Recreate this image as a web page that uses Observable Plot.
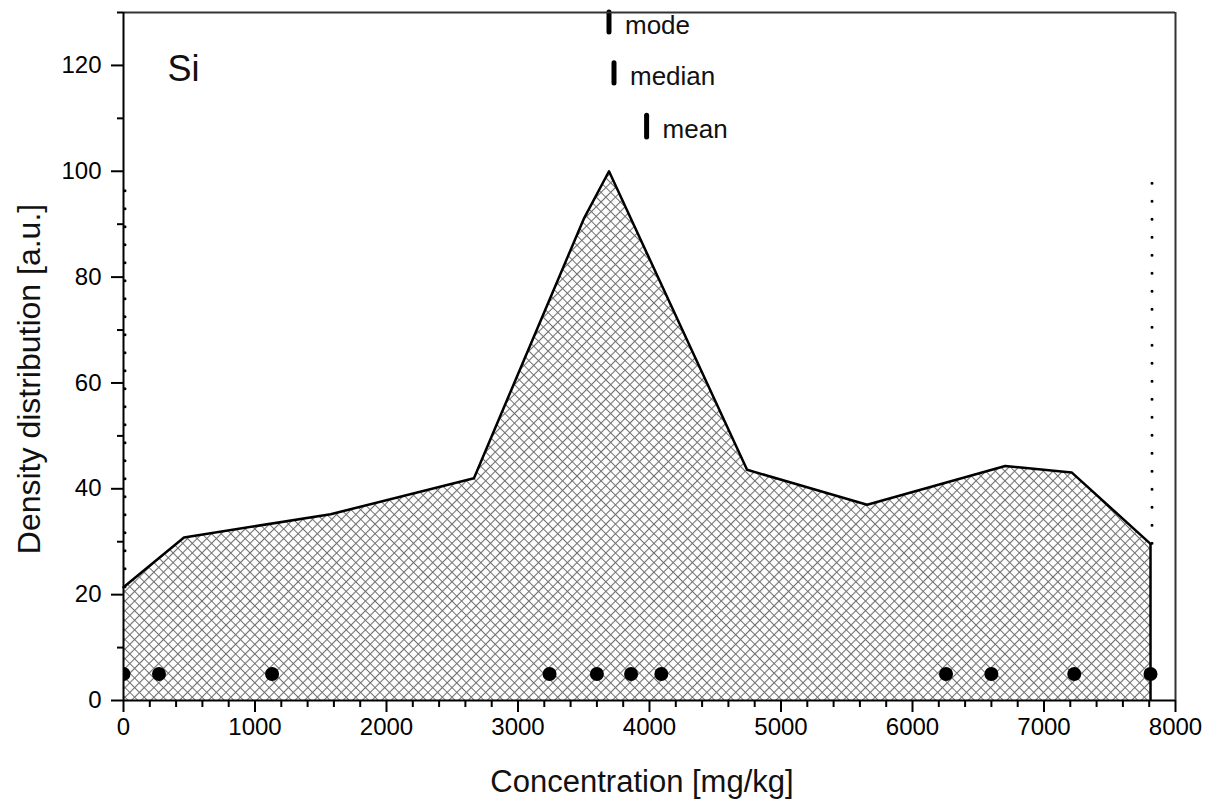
<!DOCTYPE html>
<html>
<head>
<meta charset="utf-8">
<script src="https://cdn.jsdelivr.net/npm/d3@7"></script>
<script src="https://cdn.jsdelivr.net/npm/@observablehq/plot@0.6"></script>
<style>
  body { margin: 0; background: #fff; }
  #chart svg { display: block; }
</style>
</head>
<body>
<div id="chart"></div>
<script>
// Kernel density of Si concentration (polyline knots)
const densityX = [0, 460, 1575, 2665, 3500, 3692, 4742, 5655, 6705, 7210, 7810];
const densityY = [21.4, 30.8, 35.2, 42.0, 91.0, 100, 43.6, 37.0, 44.3, 43.1, 29.6];

// Individual sample concentrations (drawn as a rug of dots)
const sampleX = [0, 270, 1130, 3240, 3600, 3860, 4090, 6255, 6600, 7230, 7810];
const sampleLevel = 5;

// Summary statistics markers
const statNames = ["mode", "median", "mean"];
const statX = [3692, 3730, 3978];
const statLow = [126.2, 116.6, 106.4];
const statHigh = [130, 120.4, 110.5];

// Range of the data (dotted guides at min and max)
const rangeX = [0, 7810];
const rangeBase = [21.4, 29.6];
const rangeTop = 98;

const xTicks = [0, 1000, 2000, 3000, 4000, 5000, 6000, 7000, 8000];
const yTicks = [0, 20, 40, 60, 80, 100, 120];

const density = densityX.map((x, i) => ({x, y: densityY[i]}));
const samples = sampleX.map(x => ({x, y: sampleLevel}));
const stats = statNames.map((name, i) => ({name, x: statX[i], lo: statLow[i], hi: statHigh[i]}));
const ranges = rangeX.map((x, i) => ({x, lo: rangeBase[i], hi: rangeTop}));
const lastKnot = density[density.length - 1];

const xMinor = d3.range(200, 8000, 200).filter(v => v % 1000 !== 0);
const yMinor = d3.range(10, 131, 20);

const font = "'Liberation Sans', Arial, Helvetica, sans-serif";

const chart = Plot.plot({
  width: 1215,
  height: 805,
  marginLeft: 123,
  marginRight: 40,
  marginTop: 12,
  marginBottom: 105,
  style: {fontFamily: font, fontSize: "24px", background: "white", overflow: "visible", color: "black"},
  x: {domain: [0, 8000]},
  y: {domain: [0, 130]},
  marks: [
    // cross-hatched density area
    Plot.areaY(density, {x: "x", y: "y", fill: "url(#crosshatch)"}),
    // density outline
    Plot.line(density, {x: "x", y: "y", stroke: "black", strokeWidth: 2.5}),
    Plot.ruleX([lastKnot], {x: "x", y1: 0, y2: "y", stroke: "black", strokeWidth: 2.5}),
    // samples
    Plot.dot(samples, {x: "x", y: "y", r: 7, fill: "black", clip: true}),
    // mode / median / mean markers
    Plot.ruleX(stats, {x: "x", y1: "lo", y2: "hi", stroke: "black", strokeWidth: 5, strokeLinecap: "round"}),
    Plot.text(stats, {x: "x", y: d => (d.lo + d.hi) / 2, text: "name", textAnchor: "start",
                      dx: 16, dy: 3, fontSize: 26, fill: "#111"}),
    // element label
    Plot.text(["Si"], {frameAnchor: "top-left", text: d => d, dx: 44, dy: 43, lineAnchor: "top",
                       textAnchor: "start", fontSize: 36, fill: "#111"}),
    // frame: top and right edges
    Plot.ruleY([130], {stroke: "#333", strokeWidth: 2}),
    Plot.ruleX([8000], {stroke: "#333", strokeWidth: 2}),
    // axis lines
    Plot.ruleX([0], {stroke: "black", strokeWidth: 2}),
    Plot.ruleY([0], {stroke: "black", strokeWidth: 2}),
    // dotted guides at the data range
    Plot.ruleX(ranges, {x: "x", y1: "lo", y2: "hi", dx: 1.5, stroke: "black", strokeWidth: 3,
                        strokeDasharray: "0 18", strokeLinecap: "round"}),
    // axes
    Plot.axisX({ticks: xTicks, tickFormat: d => String(d), tickSize: 12, tickPadding: 5,
                fontSize: 24, strokeWidth: 2, label: null}),
    Plot.axisX({ticks: xMinor, tickSize: 7, strokeWidth: 2, fill: "none", label: null}),
    Plot.axisY({ticks: yTicks, tickFormat: d => String(d), tickSize: 12, tickPadding: 10,
                fontSize: 24, strokeWidth: 2, label: null}),
    Plot.axisY({ticks: yMinor, tickSize: 6, strokeWidth: 2, fill: "none", label: null})
  ]
});

const svg = d3.select(chart);

// tick labels: set the size on each label element directly
svg.selectAll("g[aria-label*='tick label']")
  .attr("font-size", 24)
  .selectAll("text")
  .attr("font-size", 24)
  .style("font-size", "24px");

// hatch pattern definition
const defs = svg.insert("defs", ":first-child");
const pat = defs.append("pattern")
  .attr("id", "crosshatch")
  .attr("patternUnits", "userSpaceOnUse")
  .attr("width", 6.8)
  .attr("height", 6.8)
  .attr("patternTransform", "rotate(45)");
pat.append("rect").attr("width", 6.8).attr("height", 6.8).attr("fill", "white");
pat.append("path")
  .attr("d", "M0,3.4H6.8M3.4,0V6.8")
  .attr("stroke", "#707070")
  .attr("stroke-width", 1.1)
  .attr("fill", "none");

// axis titles
svg.append("text")
  .attr("x", 642).attr("y", 792)
  .attr("text-anchor", "middle")
  .attr("font-family", font)
  .attr("font-size", 31)
  .attr("fill", "#111")
  .text("Concentration [mg/kg]");
svg.append("text")
  .attr("transform", "translate(40,379) rotate(-90)")
  .attr("text-anchor", "middle")
  .attr("font-family", font)
  .attr("font-size", 32)
  .attr("fill", "#111")
  .text("Density distribution [a.u.]");

document.getElementById("chart").appendChild(chart);
</script>
</body>
</html>
